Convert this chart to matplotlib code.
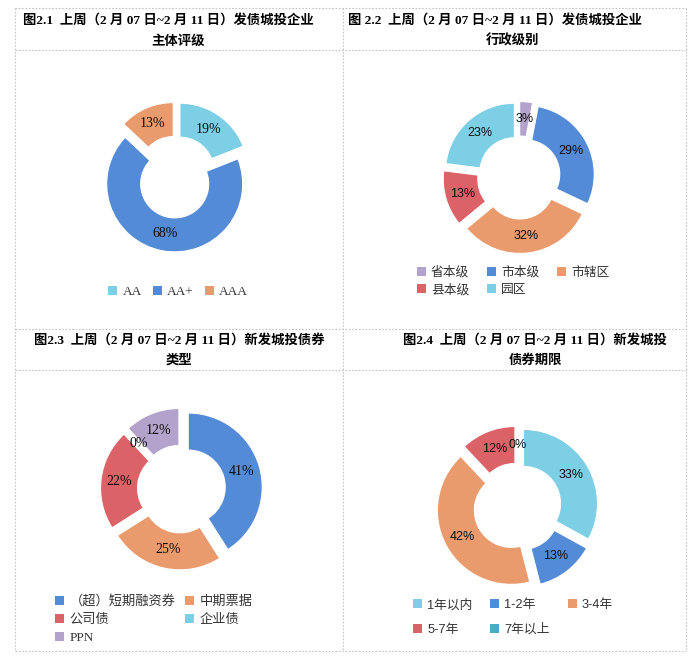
import matplotlib
matplotlib.use('Agg')
import matplotlib.pyplot as plt
from matplotlib.lines import Line2D

W_PX, H_PX = 700, 666

# ---------------- data ----------------
p1_labels = ['AA', 'AA+', 'AAA']
p1_values = [19, 68, 13]
p2_labels = ['省本级', '市本级', '市辖区', '县本级', '园区']
p2_values = [3, 29, 32, 13, 23]
p3_labels = ['（超）短期融资券', '中期票据', '公司债', '企业债', 'PPN']
p3_values = [41, 25, 22, 0, 12]
p4_labels = ['1年以内', '1-2年', '3-4年', '5-7年', '7年以上']
p4_values = [33, 13, 42, 12, 0]

title1 = ['图2.1  上周（2 月 07 日~2 月 11 日）发债城投企业', '主体评级']
title2 = ['图 2.2  上周（2 月 07 日~2 月 11 日）发债城投企业', '行政级别']
title3 = ['图2.3  上周（2 月 07 日~2 月 11 日）新发城投债券', '类型']
title4 = ['图2.4  上周（2 月 07 日~2 月 11 日）新发城投', '债券期限']

LB = '#7DCFE6'; BL = '#538BD6'; OR = '#EA9B6D'; RD = '#DB6367'; LV = '#B3A2CB'; TL = '#4BACC6'
p1_colors = [LB, BL, OR]
p2_colors = [LV, BL, OR, RD, LB]
p3_colors = [BL, OR, RD, LB, LV]
p4_colors = [LB, BL, OR, RD, TL]

SERIF = ['Liberation Serif', 'Noto Sans CJK SC']
SANS = ['Liberation Sans', 'Noto Sans CJK SC']
CJK = ['Noto Sans CJK SC', 'Liberation Sans']

fig = plt.figure(figsize=(W_PX / 100, H_PX / 100), dpi=100)
fig.patch.set_facecolor('white')


def fx(x):
    return x / W_PX


def fy(y):
    return 1 - y / H_PX


# ---------------- borders ----------------
def hline(y, x0, x1):
    fig.add_artist(Line2D([fx(x0), fx(x1)], [fy(y), fy(y)], transform=fig.transFigure,
                          color='#c4c4c4', lw=0.8, linestyle=(0, (1.5, 1.5))))


def vline(x, y0, y1):
    fig.add_artist(Line2D([fx(x), fx(x)], [fy(y0), fy(y1)], transform=fig.transFigure,
                          color='#c4c4c4', lw=0.8, linestyle=(0, (1.5, 1.5))))


for yy in [8, 50, 329, 370, 651]:
    hline(yy, 15, 686)
for xx in [15, 343, 686]:
    vline(xx, 8, 651)

# ---------------- titles ----------------
def title(lines, x1, y1, x2, y2):
    fig.text(fx(x1), fy(y1), lines[0], ha='center', va='center', family=SERIF,
             weight='bold', size=9.6, color='black')
    fig.text(fx(x2), fy(y2), lines[1], ha='center', va='center', family=SERIF,
             weight='bold', size=9.6, color='black')


title(title1, 168, 20, 178, 41)
title(title2, 495, 20, 513, 41)
title(title3, 179, 340, 179, 361)
title(title4, 535, 340, 535, 361)


# ---------------- donuts ----------------
def donut(cx, cy, R, rin, e, values, colors, fam, size):
    S = 110
    ax = fig.add_axes([fx(cx - S), fy(cy + S), 2 * S / W_PX, 2 * S / H_PX])
    wedges, _, autotexts = ax.pie(
        values, colors=colors, startangle=90, counterclock=False, radius=R,
        explode=[e] * len(values),
        wedgeprops=dict(width=R - rin, edgecolor='white', linewidth=0.8),
        autopct=lambda p: f'{p:.0f}%', pctdistance=(R + rin) / 2 / R,
        textprops=dict(family=fam, size=size, color='#0d0d0d'))
    ax.set_xlim(-S, S)
    ax.set_ylim(-S, S)
    ax.set_axis_off()
    return ax, wedges


def legend(ax, wedges, labels, order, x_px, y_top, ncol, fam, size, colsp, labsp):
    hs = [wedges[i] for i in order]
    ls = [labels[i] for i in order]
    leg = ax.legend(hs, ls, loc='upper left',
                    bbox_to_anchor=(fx(x_px), fy(y_top)), bbox_transform=fig.transFigure,
                    ncol=ncol, frameon=False, prop=dict(family=fam, size=size),
                    handlelength=0.7, handleheight=0.7, handletextpad=0.4,
                    columnspacing=colsp, labelspacing=labsp, borderpad=0, borderaxespad=0)
    for t in leg.get_texts():
        t.set_color('#333333')
    for h in leg.legend_handles:
        h.set_edgecolor('none')
    return leg


ax1, w1 = donut(176, 177, 68, 34, 7, p1_values, p1_colors, SERIF, 10)
legend(ax1, w1, p1_labels, [0, 1, 2], 108, 286, 3, SERIF, 9.6, 0.8, 0.3)

ax2, w2 = donut(519, 177.5, 69, 34.5, 7, p2_values, p2_colors, SANS, 9)
legend(ax2, w2, p2_labels, [0, 3, 1, 4, 2], 417, 266, 3, CJK, 9.2, 1.4, 0.33)

ax3, w3 = donut(181.5, 489, 74, 37, 7, p3_values, p3_colors, SERIF, 10)
legend(ax3, w3, p3_labels, [0, 2, 4, 1, 3], 55, 595, 2, SERIF, 9.5, 0.7, 0.45)

ax4, w4 = donut(517.5, 507, 74, 37, 7, p4_values, p4_colors, SANS, 9)
legend(ax4, w4, p4_labels, [0, 3, 1, 4, 2], 413, 599, 3, SANS, 9.2, 1.4, 0.97)

fig.savefig('out.png', dpi=100, facecolor='white')
